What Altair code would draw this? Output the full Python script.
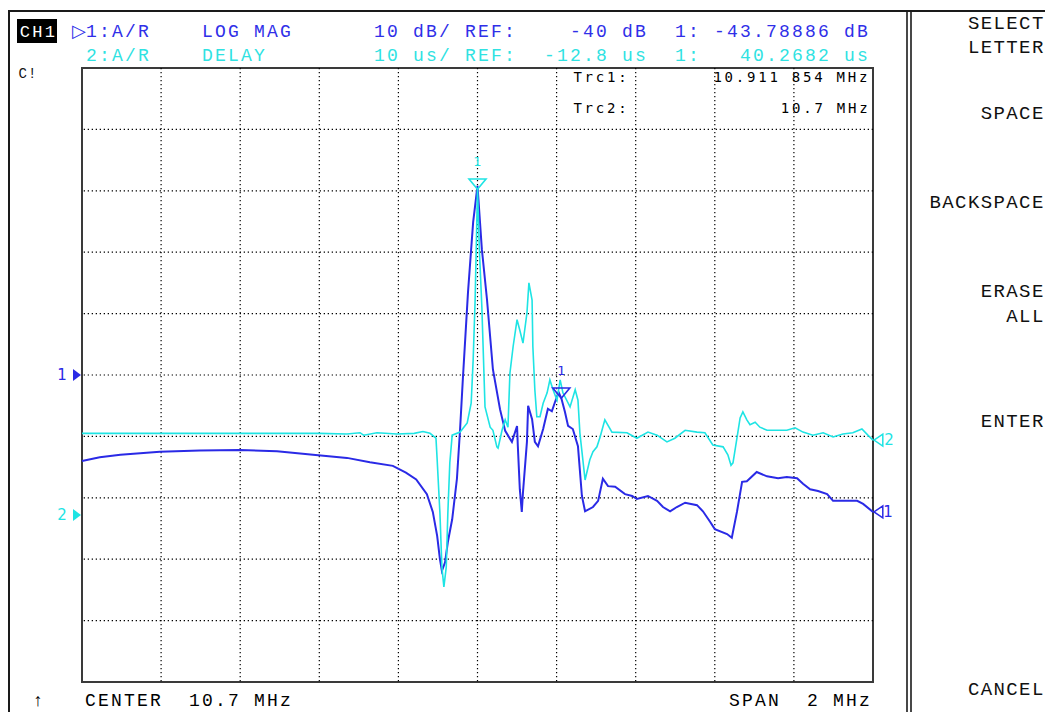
import altair as alt
import pandas as pd

# Trace 1: A/R LOG MAG, dB  (10 dB/div, REF -40 dB at centre line)
t1_freq = [9.700, 9.745, 9.797, 9.897, 9.998, 10.099, 10.193, 10.284, 10.370, 10.428,
           10.486, 10.519, 10.545, 10.572, 10.587, 10.598, 10.605, 10.610, 10.618, 10.625,
           10.636, 10.648, 10.656, 10.663, 10.676, 10.689, 10.700, 10.711, 10.724, 10.739,
           10.757, 10.770, 10.787, 10.800, 10.802, 10.807, 10.812, 10.815, 10.825, 10.828,
           10.838, 10.845, 10.853, 10.866, 10.878, 10.888, 10.896, 10.905, 10.912, 10.921,
           10.929, 10.941, 10.954, 10.964, 10.972, 10.992, 11.005, 11.017, 11.030, 11.048,
           11.073, 11.091, 11.103, 11.131, 11.154, 11.169, 11.187, 11.204, 11.225, 11.255,
           11.270, 11.288, 11.300, 11.331, 11.343, 11.356, 11.369, 11.381, 11.406, 11.432,
           11.460, 11.482, 11.508, 11.523, 11.541, 11.561, 11.584, 11.599, 11.624, 11.660,
           11.675, 11.700]
t1_db = [-54.0, -53.4, -53.0, -52.5, -52.3, -52.2, -52.4, -53.0, -53.5, -54.2,
         -54.8, -55.9, -57.0, -59.4, -62.3, -66.2, -70.0, -71.9, -70.5, -67.2,
         -63.5, -56.9, -48.8, -40.6, -26.5, -15.1, -9.2, -19.5, -27.7, -39.1,
         -45.6, -49.1, -50.9, -48.3, -51.6, -58.6, -62.3, -59.1, -50.9, -45.0,
         -47.2, -50.9, -51.6, -48.8, -45.5, -45.9, -44.4, -42.8, -43.8, -46.0,
         -48.3, -48.8, -51.6, -59.7, -62.2, -61.5, -60.5, -56.9, -58.1, -58.2,
         -59.4, -59.7, -60.2, -59.7, -60.5, -61.5, -62.2, -61.5, -60.8, -61.2,
         -62.2, -63.9, -65.1, -65.9, -66.5, -62.3, -57.4, -57.3, -55.8, -56.5,
         -56.8, -56.6, -56.8, -57.7, -58.6, -58.9, -59.4, -60.5, -60.5, -60.5,
         -61.0, -62.3]

# Trace 2: A/R DELAY, us  (10 us/div, REF -12.8 us)
t2_freq = [9.700, 9.900, 10.100, 10.300, 10.370, 10.403, 10.412, 10.446, 10.496, 10.540,
           10.562, 10.580, 10.595, 10.598, 10.605, 10.610, 10.615, 10.621, 10.625, 10.630,
           10.636, 10.656, 10.674, 10.684, 10.689, 10.694, 10.700, 10.705, 10.711, 10.719,
           10.732, 10.739, 10.749, 10.752, 10.762, 10.770, 10.777, 10.782, 10.790, 10.800,
           10.807, 10.815, 10.825, 10.830, 10.838, 10.840, 10.845, 10.850, 10.858, 10.866,
           10.876, 10.883, 10.891, 10.901, 10.909, 10.916, 10.934, 10.947, 10.954, 10.959,
           10.972, 10.984, 10.992, 11.002, 11.010, 11.022, 11.040, 11.078, 11.103, 11.131,
           11.154, 11.179, 11.199, 11.225, 11.255, 11.275, 11.295, 11.321, 11.333, 11.341,
           11.346, 11.356, 11.364, 11.371, 11.381, 11.389, 11.402, 11.414, 11.432, 11.457,
           11.482, 11.503, 11.523, 11.548, 11.574, 11.599, 11.624, 11.649, 11.672, 11.687,
           11.700]
t2_us = [0.5, 0.5, 0.5, 0.5, 0.4, 0.6, 0.2, 0.6, 0.4, 0.5,
         0.8, 0.5, -0.3, -3.8, -12.5, -21.3, -24.5, -21.3, -12.5, -4.3,
         0.2, 0.7, 2.2, 5.4, 12.4, 22.2, 40.27, 30.0, 21.1, 4.8,
         1.5, 1.0, -1.7, -1.9, 1.0, 2.7, 1.5, 10.3, 14.6, 19.0,
         17.3, 15.2, 20.1, 25.0, 22.2, 14.6, 7.6, 3.2, 3.2, 5.4,
         7.1, 9.2, 7.6, 5.9, 9.2, 7.1, 4.8, 7.6, 5.9, 0.5,
         -7.1, -3.8, -2.5, -1.7, -0.1, 2.7, 0.7, 0.6, -0.3, 0.7,
         0.2, -0.9, -0.3, 1.0, 0.7, 0.6, -1.4, -1.7, -3.0, -4.7,
         -4.3, -0.3, 3.0, 4.0, 2.7, 1.9, 2.3, 1.5, 1.0, 1.0,
         1.0, 1.4, 0.7, 0.2, 0.6, -0.1, 0.4, 0.6, 1.2, 0.2,
         -0.6]

x_grid = [9.9, 10.1, 10.3, 10.5, 10.7, 10.9, 11.1, 11.3, 11.5]
db_grid = [-80, -70, -60, -50, -40, -30, -20, -10, 0]

marker1_freq, marker1_db = 10.911854, -43.78886
marker2_freq, marker2_us = 10.7, 40.2682
ref1_db, ref2_us = -40, -12.8

BLUE = "#2a2ae6"
CYAN = "#1ee4e4"
TXT_BLUE = "#2f2fe8"
TXT_CYAN = "#2fe2e2"

header_items = [
    ("\u25b71:A/R", 72, 37, TXT_BLUE), ("LOG MAG", 201, 37, TXT_BLUE),
    ("10 dB/ REF:", 373, 37, TXT_BLUE), ("-40 dB", 569, 37, TXT_BLUE),
    ("1: -43.78886 dB", 674, 37, TXT_BLUE),
    ("2:A/R", 85, 61, TXT_CYAN), ("DELAY", 201, 61, TXT_CYAN),
    ("10 us/ REF:", 373, 61, TXT_CYAN), ("-12.8 us", 543, 61, TXT_CYAN),
    ("1:", 674, 61, TXT_CYAN), ("40.2682 us", 739, 61, TXT_CYAN),
]
panel_labels = [("SELECT", 29), ("LETTER", 53), ("SPACE", 119), ("BACKSPACE", 208),
                ("ERASE", 297), ("ALL", 322), ("ENTER", 427), ("CANCEL", 695)]
bottom_items = [("\u2191", 31.5, 706, "#000000"), ("CENTER  10.7 MHz", 84, 706, "#000000"),
                ("SPAN  2 MHz", 728, 706, "#000000")]
trc_items = [("Trc1:", 572, 82, "#000000"), ("10.911 854 MHz", 712, 82, "#000000"),
             ("Trc2:", 572, 113, "#000000"), ("10.7 MHz", 779.4, 113, "#000000")]

# ---------------- layout ----------------
W, H = 791, 614
OX, OY = 82, 68          # plot origin on the page
TOTAL_W, TOTAL_H = 1037, 704


def chars(items, pitch):
    rows = []
    for text, x0, yb, col in items:
        for i, ch in enumerate(text):
            if ch == " ":
                continue
            rows.append({"ch": ch, "x": x0 - OX + pitch * (i + 0.5), "y": yb - OY, "c": col})
    return pd.DataFrame(rows)


def text_layer(df, font, size, weight="normal"):
    return alt.Chart(df).mark_text(font=font, fontSize=size, fontWeight=weight,
                                   align="center", baseline="alphabetic").encode(
        x=alt.X("x:Q", scale=None, axis=None),
        y=alt.Y("y:Q", scale=None, axis=None),
        text="ch:N",
        color=alt.Color("c:N", scale=None),
    )


xs = alt.Scale(domain=[9.7, 11.7], nice=False, zero=False)
dbs = alt.Scale(domain=[-90, 10], nice=False, zero=False)
uss = alt.Scale(domain=[-40, 60], nice=False, zero=False)

df1 = pd.DataFrame({"f": t1_freq, "v": t1_db})
df2 = pd.DataFrame({"f": t2_freq, "v": t2_us})

DASH = [1.3, 2.7]
vgrid = alt.Chart(pd.DataFrame({"f": x_grid})).mark_rule(
    color="#000000", strokeWidth=1.2, strokeDash=DASH).encode(
    x=alt.X("f:Q", scale=xs, axis=None))
hgrid = alt.Chart(pd.DataFrame({"v": db_grid})).mark_rule(
    color="#000000", strokeWidth=1.2, strokeDash=DASH).encode(
    y=alt.Y("v:Q", scale=dbs, axis=None))

trace1 = alt.Chart(df1).mark_line(color=BLUE, strokeWidth=2).encode(
    x=alt.X("f:Q", scale=xs, axis=None),
    y=alt.Y("v:Q", scale=dbs, axis=None),
)
trace2 = alt.Chart(df2).mark_line(color=CYAN, strokeWidth=1.6).encode(
    x=alt.X("f:Q", scale=xs, axis=None),
    y=alt.Y("v:Q", scale=uss, axis=None),
)

TRI_DOWN = "M -1 -1.2 L 1 -1.2 L 0 0 Z"
TRI_RIGHT = "M -1 -0.75 L 0 0 L -1 0.75 Z"
TRI_LEFT = "M 0 0 L 1.1 -0.75 L 1.1 0.75 Z"

m1 = pd.DataFrame({"f": [marker1_freq], "v": [marker1_db]})
m2 = pd.DataFrame({"f": [marker2_freq], "v": [marker2_us]})


def marker(df, sc, col):
    tri = alt.Chart(df).mark_point(shape=TRI_DOWN, size=289, filled=False, color=col,
                                   strokeWidth=1.6, opacity=1).encode(
        x=alt.X("f:Q", scale=xs, axis=None), y=alt.Y("v:Q", scale=sc, axis=None))
    lbl = alt.Chart(df).mark_text(text="1", color=col, font="DejaVu Sans", fontSize=13,
                                  dy=-27, baseline="middle").encode(
        x=alt.X("f:Q", scale=xs, axis=None), y=alt.Y("v:Q", scale=sc, axis=None))
    return [tri, lbl]


def side_marker(val, sc, col, label, shape, xtri, xlbl, filled):
    d = pd.DataFrame({"v": [val]})
    tri = alt.Chart(d).mark_point(shape=shape, size=256, filled=filled, color=col,
                                  strokeWidth=1.5, opacity=1).encode(
        x=alt.value(xtri), y=alt.Y("v:Q", scale=sc, axis=None))
    lbl = alt.Chart(d).mark_text(text=label, color=col, font="DejaVu Sans", fontSize=15,
                                 baseline="middle").encode(
        x=alt.value(xlbl), y=alt.Y("v:Q", scale=sc, axis=None))
    return [tri, lbl]


rules_df = pd.DataFrame({
    "x": [8 - OX, 9 - OX, 907 - OX, 911 - OX],
    "x2": [1053 - OX, 9 - OX, 907 - OX, 911 - OX],
    "y": [11 - OY, 11 - OY, 11 - OY, 11 - OY],
    "y2": [11 - OY, 730 - OY, 730 - OY, 730 - OY],
    "w": [2, 2, 1.6, 1.6],
})
frame = alt.Chart(rules_df).mark_rule(color="#1a1a1a").encode(
    x=alt.X("x:Q", scale=None, axis=None), x2="x2:Q",
    y=alt.Y("y:Q", scale=None, axis=None), y2="y2:Q",
    strokeWidth=alt.StrokeWidth("w:Q", scale=None),
)

ch1_box = alt.Chart(pd.DataFrame({"a": [0]})).mark_rect(color="black").encode(
    x=alt.value(17 - OX), x2=alt.value(57 - OX), y=alt.value(19 - OY), y2=alt.value(43 - OY))

panel_df = chars([(t, 1044 - 12.8 * len(t), yb, "#111111") for t, yb in panel_labels], 12.8)

layers = [vgrid, hgrid, trace1, trace2]
layers += marker(m1, dbs, BLUE)
layers += marker(m2, uss, CYAN)
layers += side_marker(ref1_db, dbs, BLUE, "1", TRI_RIGHT, -1, -20, True)
layers += side_marker(ref2_us, uss, CYAN, "2", TRI_RIGHT, -1, -20, True)
layers += side_marker(t1_db[-1], dbs, BLUE, "1", TRI_LEFT, 792, 806, False)
layers += side_marker(t2_us[-1], uss, CYAN, "2", TRI_LEFT, 792, 807, False)
layers += [
    frame, ch1_box,
    text_layer(chars(header_items, 13.0), "Liberation Mono", 18),
    text_layer(chars([("CH1", 18.5, 37, "#ffffff")], 12.5), "Liberation Mono", 17),
    text_layer(chars([("C!", 18, 78, "#111111")], 9.5), "Liberation Mono", 14),
    text_layer(chars(trc_items, 11.2), "DejaVu Sans Mono", 14),
    text_layer(panel_df, "Liberation Mono", 19),
    text_layer(chars(bottom_items, 13.0), "Liberation Mono", 18),
]

chart = alt.layer(*layers).resolve_scale(y="independent").properties(
    width=W, height=H,
    padding={"left": OX - 8, "top": OY - 8,
             "right": TOTAL_W - (OX - 8) - W, "bottom": TOTAL_H - (OY - 8) - H},
    autosize=alt.AutoSizeParams(type="none"),
    background="white",
).configure_view(stroke="#3a3a3a", strokeWidth=2)

chart.save("out.html", embed_options={"renderer": "svg", "actions": False})
